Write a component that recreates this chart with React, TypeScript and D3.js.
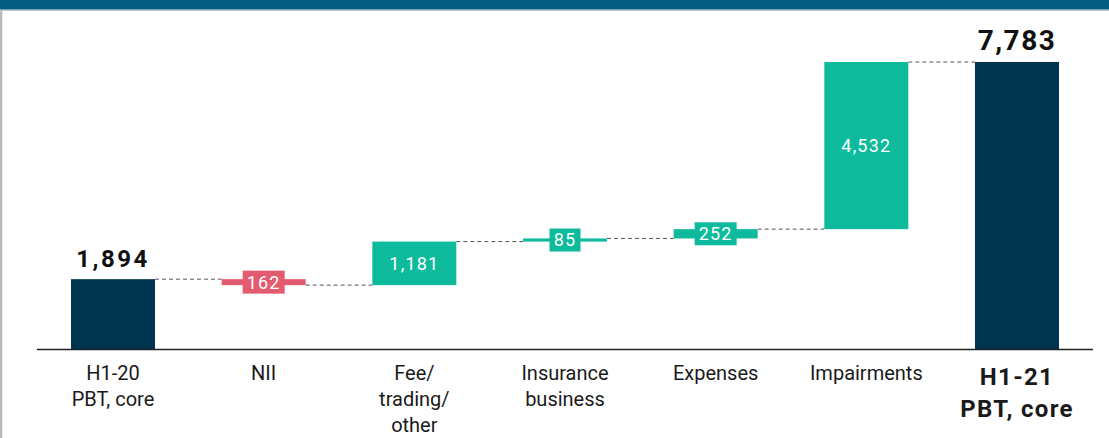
import React from "react";
import * as d3 from "d3";

const categories = ["H1-20 PBT, core", "NII", "Fee/trading/other", "Insurance business", "Expenses", "Impairments", "H1-21 PBT, core"];
const categoryLines = [["H1-20", "PBT, core"], ["NII"], ["Fee/", "trading/", "other"], ["Insurance", "business"], ["Expenses"], ["Impairments"], ["H1-21", "PBT, core"]];
const values = [1894, -162, 1181, 85, 252, 4532, 7783];
const isTotal = [true, false, false, false, false, false, true];
const valueLabels = ["1,894", "162", "1,181", "85", "252", "4,532", "7,783"];

const W = 1109, H = 438;
const NAVY = "#00354f";
const TEAL = "#0dba9c";
const RED = "#e35b6e";

export default function App() {
  const x = d3.scaleBand<string>().domain(categories).range([37, 1093]).paddingInner(0.4425).paddingOuter(0.2258);
  const y = d3.scaleLinear().domain([0, 7783]).range([349, 62]);
  const bw = x.bandwidth();

  let running = 0;
  const segs = categories.map((c, i) => {
    let start: number, end: number;
    if (isTotal[i]) { start = 0; end = values[i]; running = values[i]; }
    else { start = running; end = running + values[i]; running = end; }
    return { c, i, start, end, level: isTotal[i] ? values[i] : end };
  });

  const font = "Roboto, 'DejaVu Sans', sans-serif";

  return (
    <svg width={W} height={H} style={{ position: "absolute", left: 0, top: 0, background: "#fff" }} fontFamily={font}>
      <rect x={0} y={0} width={W} height={9.5} fill="#025b80" />
      <rect x={0} y={9.5} width={W} height={1} fill="#6a98ad" />
      <rect x={0} y={10.5} width={2.3} height={H - 10.5} fill="#b9b9b9" />

      {segs.slice(0, -1).map((s, i) => {
        const yy = y(s.level);
        const x1 = (x(s.c) as number) + bw;
        const x2 = x(segs[i + 1].c) as number;
        return <line key={"c" + i} x1={x1} x2={x2} y1={yy} y2={yy} stroke="#555" strokeWidth={1} strokeDasharray="4,3" />;
      })}

      {segs.map((s) => {
        const x0 = x(s.c) as number;
        const top = y(Math.max(s.start, s.end));
        const bot = y(Math.min(s.start, s.end));
        const color = isTotal[s.i] ? NAVY : values[s.i] < 0 ? RED : TEAL;
        const cx = x0 + bw / 2;
        const cy = (top + bot) / 2;
        const lbl = valueLabels[s.i];
        const boxW = lbl.length * 11 + 9;
        return (
          <g key={s.c}>
            <rect x={x0} y={top} width={bw} height={Math.max(bot - top, 1)} fill={color} />
            {isTotal[s.i] ? (
              <text x={cx} y={top - 12} textAnchor="middle" fontWeight={700} fontSize={s.i === 0 ? 24 : 28} letterSpacing={s.i === 0 ? 2.5 : 1.5} fill="#111">{lbl}</text>
            ) : (
              <g>
                <rect x={cx - boxW / 2} y={cy - 11.5} width={boxW} height={23} fill={color} />
                <text x={cx} y={cy} dy="0.36em" textAnchor="middle" fontSize={18} letterSpacing={1.2} fill="#fff">{lbl}</text>
              </g>
            )}
          </g>
        );
      })}

      <line x1={37} x2={1093} y1={349.5} y2={349.5} stroke="#222" strokeWidth={1.6} />

      {categories.map((c, i) => {
        const cx = (x(c) as number) + bw / 2;
        const bold = isTotal[i] && i === categories.length - 1;
        return (
          <text key={"l" + c} textAnchor="middle" fill="#1a1a1a" fontSize={bold ? 24 : 20} fontWeight={bold ? 700 : 400} letterSpacing={bold ? 1.3 : 0}>
            {categoryLines[i].map((ln, j) => (
              <tspan key={j} x={cx} y={bold ? 385 + j * 32 : 379.5 + j * 26}>{ln}</tspan>
            ))}
          </text>
        );
      })}
    </svg>
  );
}
